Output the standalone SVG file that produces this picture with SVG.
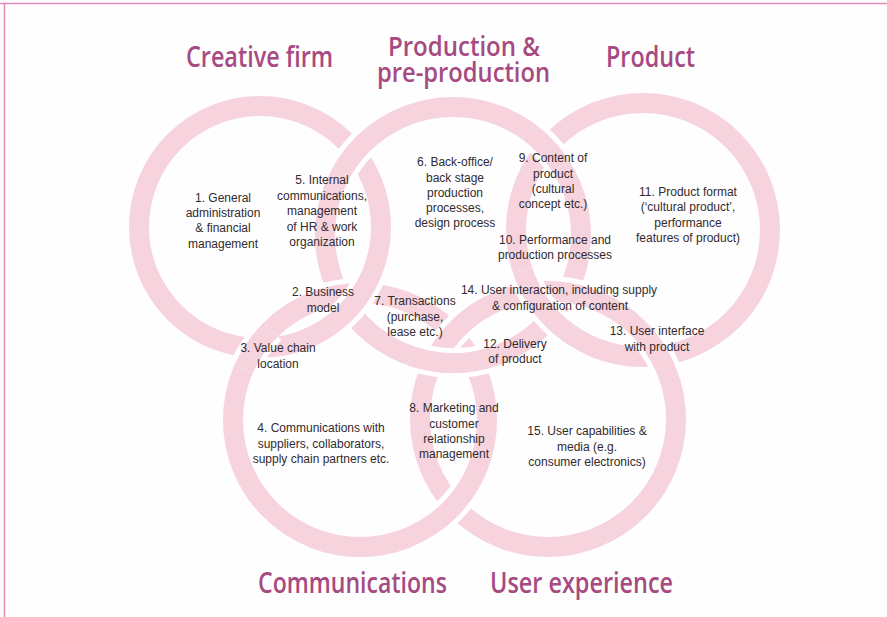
<svg xmlns="http://www.w3.org/2000/svg" width="887" height="617" viewBox="0 0 887 617">
<style>
.ring{fill:none;stroke:#f6d3dd;stroke-width:20}
.halo{fill:none;stroke:#ffffff;stroke-width:30}
.over{fill:none;stroke:#f6d3dd;stroke-width:20}
.t{font-family:"Liberation Sans",Arial,sans-serif;font-size:12px;fill:#312a2f;text-anchor:middle}
.h{font-family:"Open Sans","Liberation Sans",Arial,sans-serif;font-size:29px;font-weight:600;fill:#a64b82}
.h2{font-family:"Open Sans","Liberation Sans",Arial,sans-serif;font-size:27px;font-weight:600;fill:#a64b82}
</style>
<rect x="0" y="0" width="887" height="617" fill="#fefefe"/>
<path d="M0,3.5 H887 M4.5,3.5 V617" fill="none" stroke="#e38db7" stroke-width="1.5"/>
<g id="rings">
<circle id="ring-creative-firm" class="ring" cx="260" cy="227" r="121"/>
<circle id="ring-production" class="ring" cx="453" cy="235" r="128"/>
<circle id="ring-product" class="ring" cx="643" cy="230" r="127"/>
<circle id="ring-communications" class="ring" cx="360" cy="420" r="127"/>
<circle id="ring-user-experience" class="ring" cx="548" cy="419" r="128"/>
</g>
<g id="weave">
<path class="halo" d="M316.6,300.7 A127,127 0 0 1 363.8,293.1"/><path class="over" d="M316.6,300.7 A127,127 0 0 1 363.8,293.1"/>
<path class="halo" d="M543.5,291.1 A128,128 0 0 1 590.5,298.3"/><path class="over" d="M543.5,291.1 A128,128 0 0 1 590.5,298.3"/>
<path class="halo" d="M438.7,352.5 A128,128 0 0 1 470.4,317.2"/><path class="over" d="M438.7,352.5 A128,128 0 0 1 470.4,317.2"/>
<path class="halo" d="M341.7,171.8 A128,128 0 0 1 372.4,135.5"/><path class="over" d="M341.7,171.8 A128,128 0 0 1 372.4,135.5"/>
<path class="halo" d="M528.6,131.7 A128,128 0 0 1 561.1,166.4"/><path class="over" d="M528.6,131.7 A128,128 0 0 1 561.1,166.4"/>
<path class="halo" d="M372.4,271.7 A121,121 0 0 1 331.0,325.0"/><path class="over" d="M372.4,271.7 A121,121 0 0 1 331.0,325.0"/>
<path class="halo" d="M569.1,333.3 A127,127 0 0 1 522.6,270.3"/><path class="over" d="M569.1,333.3 A127,127 0 0 1 522.6,270.3"/>
<path class="halo" d="M496.0,355.6 A128,128 0 0 1 410.5,355.7"/><path class="over" d="M496.0,355.6 A128,128 0 0 1 410.5,355.7"/>
<path class="halo" d="M243.7,369.0 A127,127 0 0 1 270.8,329.6"/><path class="over" d="M243.7,369.0 A127,127 0 0 1 270.8,329.6"/>
<path class="halo" d="M645.5,336.0 A128,128 0 0 1 669.2,378.0"/><path class="over" d="M645.5,336.0 A128,128 0 0 1 669.2,378.0"/>
<path class="halo" d="M468.2,486.5 A127,127 0 0 1 436.1,521.7"/><path class="over" d="M468.2,486.5 A127,127 0 0 1 436.1,521.7"/>
</g>
<g id="titles">
<text id="title-creative-firm" class="h" x="186" y="67" textLength="147" lengthAdjust="spacingAndGlyphs">Creative firm</text>
<g id="title-production">
<text class="h2" x="388" y="56" textLength="152" lengthAdjust="spacingAndGlyphs">Production &amp;</text>
<text class="h2" x="377" y="82" textLength="173" lengthAdjust="spacingAndGlyphs">pre-production</text>
</g>
<text id="title-product" class="h" x="606" y="67" textLength="89" lengthAdjust="spacingAndGlyphs">Product</text>
<text id="title-communications" class="h" x="258" y="593" textLength="189" lengthAdjust="spacingAndGlyphs">Communications</text>
<text id="title-user-experience" class="h" x="490" y="593" textLength="183" lengthAdjust="spacingAndGlyphs">User experience</text>
</g>
<g id="n1"><text class="t" x="223" y="202">1. General</text><text class="t" x="223" y="217">administration</text><text class="t" x="223" y="232">&amp; financial</text><text class="t" x="223" y="247.5">management</text></g>
<g id="n2"><text class="t" x="323" y="296">2. Business</text><text class="t" x="323" y="312">model</text></g>
<g id="n3"><text class="t" x="278" y="352">3. Value chain</text><text class="t" x="278" y="368">location</text></g>
<g id="n4"><text class="t" x="321" y="432">4. Communications with</text><text class="t" x="321" y="448">suppliers, collaborators,</text><text class="t" x="321" y="463">supply chain partners etc.</text></g>
<g id="n5"><text class="t" x="322" y="184">5. Internal</text><text class="t" x="322" y="199.5">communications,</text><text class="t" x="322" y="215">management</text><text class="t" x="322" y="230.5">of HR &amp; work</text><text class="t" x="322" y="246">organization</text></g>
<g id="n6"><text class="t" x="455" y="166">6. Back-office/</text><text class="t" x="455" y="182">back stage</text><text class="t" x="455" y="197">production</text><text class="t" x="455" y="212">processes,</text><text class="t" x="455" y="227">design process</text></g>
<g id="n7"><text class="t" x="415" y="305">7. Transactions</text><text class="t" x="415" y="321">(purchase,</text><text class="t" x="415" y="336">lease etc.)</text></g>
<g id="n8"><text class="t" x="454" y="412">8. Marketing and</text><text class="t" x="454" y="428">customer</text><text class="t" x="454" y="443">relationship</text><text class="t" x="454" y="458">management</text></g>
<g id="n9"><text class="t" x="553" y="162">9. Content of</text><text class="t" x="553" y="178">product</text><text class="t" x="553" y="193">(cultural</text><text class="t" x="553" y="208">concept etc.)</text></g>
<g id="n10"><text class="t" x="555" y="244">10. Performance and</text><text class="t" x="555" y="259">production processes</text></g>
<g id="n11"><text class="t" x="688" y="196">11. Product format</text><text class="t" x="688" y="211">(‘cultural product’,</text><text class="t" x="688" y="227">performance</text><text class="t" x="688" y="242">features of product)</text></g>
<g id="n12"><text class="t" x="515" y="348">12. Delivery</text><text class="t" x="515" y="363">of product</text></g>
<g id="n13"><text class="t" x="657" y="335">13. User interface</text><text class="t" x="657" y="351">with product</text></g>
<g id="n14"><text class="t" x="559" y="294">14. User interaction, including supply</text><text class="t" x="560" y="310">&amp; configuration of content</text></g>
<g id="n15"><text class="t" x="587" y="435">15. User capabilities &amp;</text><text class="t" x="587" y="451">media (e.g.</text><text class="t" x="587" y="466">consumer electronics)</text></g>
</svg>
